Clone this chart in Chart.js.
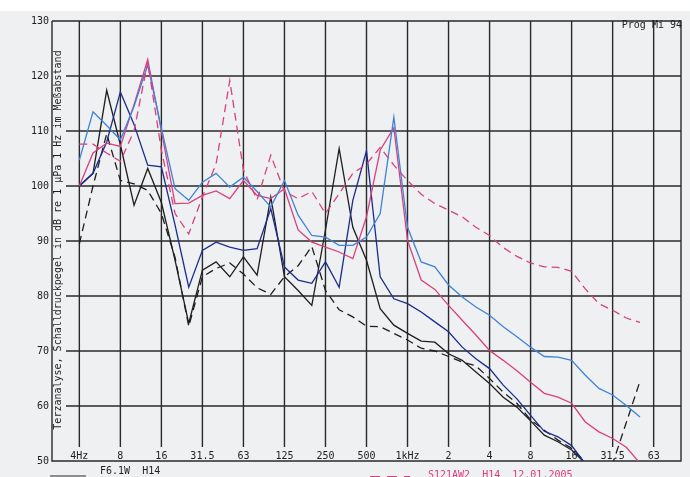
<!DOCTYPE html>
<html>
<head>
<meta charset="utf-8">
<script src="https://cdn.jsdelivr.net/npm/chart.js@4.4.0/dist/chart.umd.min.js"></script>
<style>
html, body { margin: 0; padding: 0; background: #eef0f1; }
#wrap { width: 690px; height: 477px; position: relative; overflow: hidden; }
</style>
</head>
<body>
<div id="wrap"><canvas id="terz" width="690" height="477"></canvas></div>
<script>
// third-octave bands, index 0 = 4 Hz ... 42 = 63 kHz
const bands = ['4','5','6.3','8','10','12.5','16','20','25','31.5','40','50','63','80','100','125','160','200','250','315','400','500','630','800','1k','1.25k','1.6k','2k','2.5k','3.15k','4k','5k','6.3k','8k','10k','12.5k','16k','20k','25k','31.5k','40k','50k','63k'];

// octave tick labels (every 3rd band)
const octaveLabels = ['4Hz','8','16','31.5','63','125','250','500','1kHz','2','4','8','16','31.5','63'];
const levelTicks = [50, 60, 70, 80, 90, 100, 110, 120, 130];

// series, dB per band starting at 4 Hz
const blackSolid = [100,102.3,117.4,107.5,96.5,103.2,97,86.5,75,84.7,86.2,83.5,87.1,83.8,98,83.5,81,78.3,92,106.8,92.5,86.5,77.7,74.7,73.2,71.8,71.6,69.5,68.3,66.2,64.1,61.6,59.8,57.3,54.7,53.5,52,49.6];
const blackDashed = [89.5,100,109.5,101,100.4,99.2,95,87,74.5,83.5,85,86,84,81.5,80.3,83.5,85.5,89,81,77.5,76.2,74.5,74.4,73.2,72,70.5,70,69,68,67.3,65,62.5,60.5,57.5,55.6,53.8,52.3,49.8,49.7,49.5,57,64.5];
const navy = [100,102.3,108,117.1,111.2,103.8,103.5,92.9,81.6,88.3,89.8,88.9,88.3,88.6,95.9,85.3,82.9,82.3,86.2,81.6,97.4,106.4,83.5,79.5,78.6,77.1,75.3,73.5,70.7,68.6,66.8,63.8,61.3,58.3,55.4,54.4,52.8,49.5];
const steelBlue = [104.7,113.5,111,108.4,114.5,122,110.5,99.5,97.4,100.7,102.3,99.8,101.6,99,96.2,101,94.7,91,90.7,89.2,89.2,90.7,95,112.5,92.5,86.2,85.3,82,79.8,78,76.5,74.4,72.6,70.7,69,68.9,68.3,65.6,63.2,62,60.1,58];
const pinkSolid = [100,106,107.8,107.2,114.8,123,110,96.8,96.9,98.3,99.1,97.7,101,98.3,97.7,99.5,92,89.8,88.9,88,86.8,94.4,106.5,110.6,90.1,82.9,81.2,78.3,75.6,72.9,70.1,68.3,66.4,64.3,62.3,61.6,60.5,57.1,55.3,54.1,52.5,49.6];
const pinkDashed = [107.6,107.6,106,104.5,110,122.5,106.5,95,91.3,98,104,119.2,102.9,97.5,105.6,99,97.7,99,95,98.6,102.3,104,107,103.8,101,98.5,96.8,95.6,94.4,92.5,91,88.8,87.2,86,85.3,85.2,84.5,81.3,78.6,77.4,76,75.2];

const INK = '#1e1e1e';
const PINK = '#d8417f';
const MONO = '"DejaVu Sans Mono", "Liberation Mono", monospace';

function pts(arr) {
  return arr.map(function(v, i) { return { x: i, y: v }; });
}

function series(data, color, dash) {
  return {
    data: pts(data),
    borderColor: color,
    borderWidth: 1.3,
    borderDash: dash || [],
    pointRadius: 0,
    tension: 0,
    fill: false
  };
}

// plotter paper: frame, grid, printed texts
const plotter = {
  id: 'plotter',
  beforeDraw(chart) {
    const c = chart.ctx;
    c.save();
    c.fillStyle = '#eef0f1';
    c.fillRect(0, 0, chart.width, chart.height);
    c.fillStyle = '#ffffff';
    c.fillRect(0, 0, chart.width, 11);
    c.restore();
  },
  beforeDatasetsDraw(chart) {
    const c = chart.ctx;
    const a = chart.chartArea;
    const xs = chart.scales.x, ys = chart.scales.y;
    c.save();
    c.strokeStyle = '#2a2a2a';
    c.lineWidth = 1.4;
    // horizontal grid
    levelTicks.forEach(function(v) {
      if (v === 50 || v === 130) return;
      const y = ys.getPixelForValue(v);
      c.beginPath(); c.moveTo(a.left + 14, y); c.lineTo(a.right, y); c.stroke();
    });
    // vertical grid at octaves
    octaveLabels.forEach(function(t, k) {
      const x = xs.getPixelForValue(k * 3);
      c.beginPath(); c.moveTo(x, a.top); c.lineTo(x, a.bottom - 14); c.stroke();
    });
    // frame
    c.beginPath();
    c.moveTo(a.left, a.top); c.lineTo(a.left, a.bottom); c.lineTo(a.right, a.bottom);
    c.lineTo(a.right, a.top); c.lineTo(a.left, a.top);
    c.stroke();

    c.fillStyle = INK;
    c.font = '10px ' + MONO;
    c.textAlign = 'center';
    c.textBaseline = 'alphabetic';
    octaveLabels.forEach(function(t, k) {
      c.fillText(t, xs.getPixelForValue(k * 3), a.bottom - 2.5);
    });

    c.textAlign = 'right';
    c.fillText('Prog Mi 94', 682, 27.5);

    // rotated axis title inside the frame
    c.save();
    c.translate(58, 240);
    c.rotate(-Math.PI / 2);
    c.textAlign = 'center';
    c.textBaseline = 'middle';
    c.fillText('Terzanalyse, Schalldruckpegel in dB re 1 \u00b5Pa 1 Hz im Me\u00dfabstand', 0, 0);
    c.restore();

    // legend strip at bottom
    c.textAlign = 'left';
    c.beginPath(); c.moveTo(50, 476); c.lineTo(86, 476); c.lineWidth = 1.2; c.stroke();
    c.fillText('F6.1W  H14', 100, 474);
    c.strokeStyle = PINK;
    c.setLineDash([10, 7]);
    c.beginPath(); c.moveTo(370, 476.5); c.lineTo(410, 476.5); c.stroke();
    c.setLineDash([]);
    c.fillStyle = PINK;
    c.fillText('S121AW2  H14  12.01.2005', 428, 478);
    c.restore();
  }
};

new Chart(document.getElementById('terz'), {
  type: 'line',
  data: {
    datasets: [
      series(pinkDashed, PINK, [8, 5]),
      series(steelBlue, '#3f83d6'),
      series(pinkSolid, PINK),
      series(navy, '#1b2b8f'),
      series(blackDashed, INK, [8, 5]),
      series(blackSolid, INK)
    ]
  },
  options: {
    responsive: false,
    animation: false,
    layout: { padding: { left: 0, top: 21, right: 9, bottom: 16 } },
    plugins: { legend: { display: false }, tooltip: { enabled: false } },
    scales: {
      x: {
        type: 'linear',
        min: -2,
        max: 44,
        display: false
      },
      y: {
        min: 50,
        max: 130,
        afterFit: function(s) { s.width = 52; },
        afterBuildTicks: function(s) { s.ticks = levelTicks.map(function(v) { return { value: v }; }); },
        grid: { display: false, drawTicks: false },
        border: { display: false },
        ticks: {
          color: INK,
          padding: 3,
          font: { family: MONO, size: 10 }
        }
      }
    }
  },
  plugins: [plotter]
});
</script>
</body>
</html>
